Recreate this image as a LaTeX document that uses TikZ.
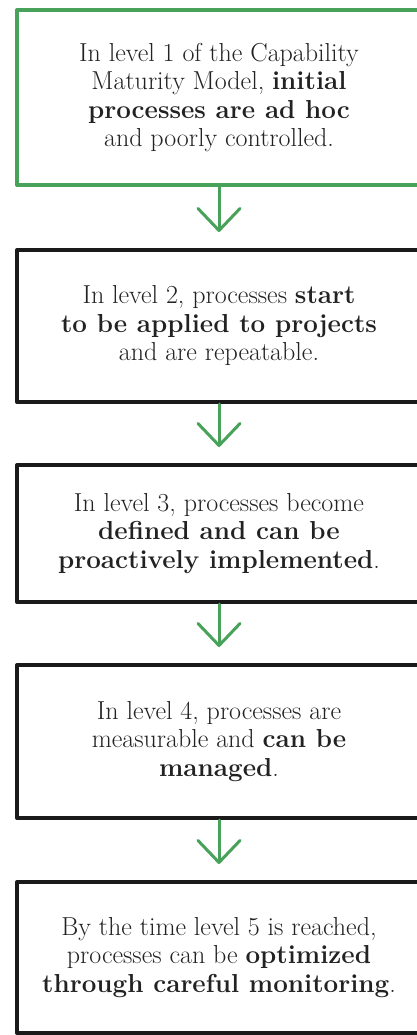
\documentclass[tikz,border=0pt]{standalone}
\usetikzlibrary{arrows.meta}
\definecolor{cmmgreen}{RGB}{72,162,90}
\definecolor{ink}{RGB}{26,26,26}
\definecolor{txt}{RGB}{34,34,34}
\begin{document}
\begin{tikzpicture}[x=1pt,y=-1pt,
  stage/.style={draw=ink, line width=4pt, rectangle, minimum width=404pt, inner sep=0pt,
    align=center, text=txt, font=\fontsize{26}{28.5}\selectfont, line join=round},
  greenstage/.style={stage, draw=cmmgreen},
  flow/.style={draw=cmmgreen, line width=3pt, line cap=round,
    -{Straight Barb[length=22pt,width=42pt,round]}, shorten >=16pt}
]
\useasboundingbox (0,0) rectangle (417,1035);
\clip (0,0) rectangle (417,1035);
\fill[white] (0,0) rectangle (417,1035);

\node[greenstage, minimum height=175pt] (b1) at (219,97.5)
  {In level 1 of the Capability\\ Maturity Model, \textbf{initial}\\ \textbf{processes are ad hoc}\\ and poorly controlled.};
\node[stage, minimum height=152pt] (b2) at (219,326)
  {In level 2, processes \textbf{start}\\ \textbf{to be applied to projects}\\ and are repeatable.};
\node[stage, minimum height=137pt] (b3) at (219,533.5)
  {In level 3, processes become\\ \textbf{defined and can be}\\ \textbf{proactively implemented}.};
\node[stage, minimum height=153pt] (b4) at (219,741.5)
  {In level 4, processes are\\ measurable and \textbf{can be}\\ \textbf{managed}.};
\node[stage, minimum height=151pt] (b5) at (219,957.5)
  {By the time level 5 is reached,\\ processes can be \textbf{optimized}\\ \textbf{through careful monitoring}.};

\draw[flow] (b1.south) -- (b2.north);
\draw[flow] (b2.south) -- (b3.north);
\draw[flow] (b3.south) -- (b4.north);
\draw[flow] (b4.south) -- (b5.north);
\end{tikzpicture}
\end{document}
